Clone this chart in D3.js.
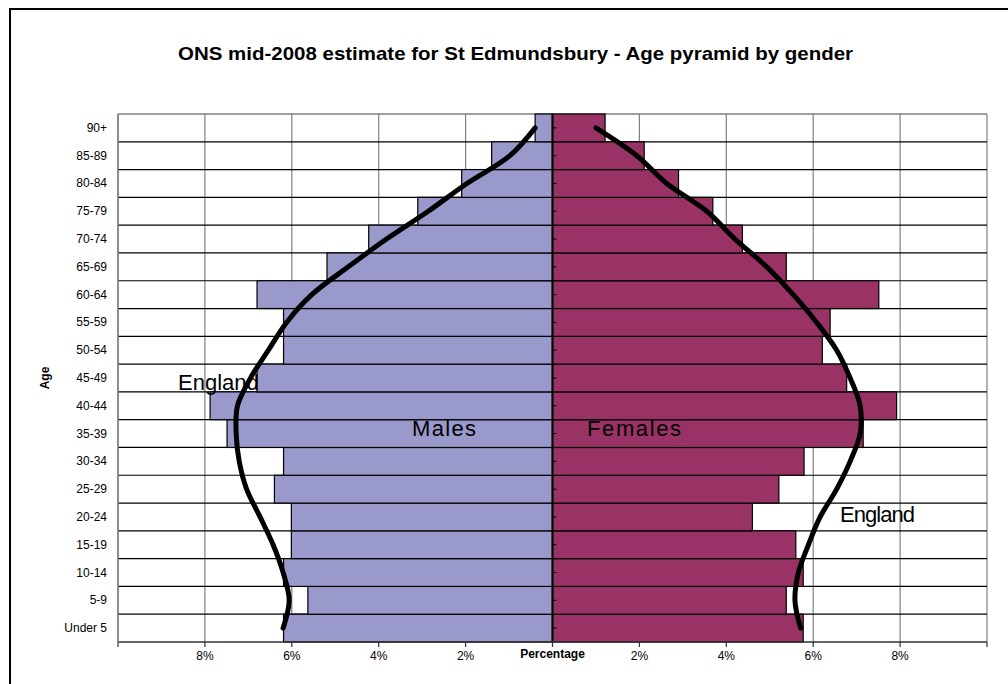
<!DOCTYPE html>
<html>
<head>
<meta charset="utf-8">
<script src="https://cdn.jsdelivr.net/npm/d3@7"></script>
<style>
html,body{margin:0;padding:0;background:#fff;}
svg{display:block;font-family:Arial,"Liberation Sans",sans-serif;}
</style>
</head>
<body>
<svg id="chart" width="1008" height="684"></svg>
<script>
const categories = ["Under 5","5-9","10-14","15-19","20-24","25-29","30-34","35-39","40-44","45-49","50-54","55-59","60-64","65-69","70-74","75-79","80-84","85-89","90+"];
const males   = [6.19,5.63,6.19,6.01,6.01,6.40,6.19,7.49,7.88,6.80,6.19,6.19,6.80,5.19,4.23,3.10,2.09,1.40,0.40];
const females = [5.77,5.38,5.77,5.60,4.60,5.21,5.79,7.15,7.92,6.77,6.21,6.39,7.51,5.38,4.37,3.69,2.90,2.11,1.21];
const englandMales   = [6.20,6.06,6.20,6.43,6.73,7.04,7.21,7.28,7.25,6.95,6.54,6.12,5.54,4.70,3.82,2.86,1.97,0.98,0.40];
const englandFemales = [5.71,5.58,5.66,5.89,6.16,6.54,6.85,7.08,7.08,6.85,6.54,6.08,5.54,4.93,4.20,3.55,2.63,1.94,1.00];
const xTicks = [-10,-8,-6,-4,-2,0,2,4,6,8,10];
const xTickLabels = ["","8%","6%","4%","2%","","2%","4%","6%","8%",""];

const svg = d3.select("#chart");
const L = 118, R = 987, T = 114, B = 642;
const x = d3.scaleLinear().domain([-10,10]).range([L,R]);
const y = d3.scaleBand().domain(categories.slice().reverse()).range([T,B]).padding(0);

// outer frame
svg.append("rect").attr("x",10).attr("y",9).attr("width",1010).attr("height",700)
  .attr("fill","none").attr("stroke","#000").attr("stroke-width",2);

// title
svg.append("text").attr("x",515.5).attr("y",60).attr("text-anchor","middle")
  .attr("font-size",18.5).attr("font-weight","bold")
  .attr("textLength",675).attr("lengthAdjust","spacingAndGlyphs")
  .text("ONS mid-2008 estimate for St Edmundsbury - Age pyramid by gender");

// vertical gridlines
svg.append("g").selectAll("line").data(xTicks.filter(d=>d!==0)).join("line")
  .attr("x1",d=>x(d)).attr("x2",d=>x(d)).attr("y1",T).attr("y2",B)
  .attr("stroke","#808080").attr("stroke-width",1.2);
// top border
svg.append("line").attr("x1",L).attr("x2",R).attr("y1",T).attr("y2",T)
  .attr("stroke","#808080").attr("stroke-width",1.5);

// horizontal row lines
const bounds = categories.map((c)=>y(c)).filter(v=>v>T+1);
svg.append("g").selectAll("line").data(bounds).join("line")
  .attr("x1",L).attr("x2",R).attr("y1",d=>d).attr("y2",d=>d)
  .attr("stroke","#000").attr("stroke-width",1.2);

// bars
svg.append("g").selectAll("rect").data(categories).join("rect")
  .attr("x",(d,i)=>x(-males[i])).attr("y",d=>y(d))
  .attr("width",(d,i)=>x(0)-x(-males[i])).attr("height",y.bandwidth())
  .attr("fill","#9999CC").attr("stroke","#000").attr("stroke-width",1.2);
svg.append("g").selectAll("rect").data(categories).join("rect")
  .attr("x",x(0)).attr("y",d=>y(d))
  .attr("width",(d,i)=>x(females[i])-x(0)).attr("height",y.bandwidth())
  .attr("fill","#993366").attr("stroke","#000").attr("stroke-width",1.2);

// centre axis with small ticks
svg.append("line").attr("x1",x(0)).attr("x2",x(0)).attr("y1",T).attr("y2",B)
  .attr("stroke","#000").attr("stroke-width",2);
svg.append("g").selectAll("line").data(categories).join("line")
  .attr("x1",x(0)).attr("x2",x(0)+4)
  .attr("y1",d=>y(d)+y.bandwidth()/2).attr("y2",d=>y(d)+y.bandwidth()/2)
  .attr("stroke","#000").attr("stroke-width",1);

// bottom axis
svg.append("line").attr("x1",L).attr("x2",R).attr("y1",B).attr("y2",B)
  .attr("stroke","#333").attr("stroke-width",1.5);
svg.append("g").selectAll("line").data(xTicks).join("line")
  .attr("x1",d=>x(d)).attr("x2",d=>x(d)).attr("y1",B).attr("y2",B+5)
  .attr("stroke","#333").attr("stroke-width",1.2);
svg.append("g").selectAll("text").data(xTicks).join("text")
  .attr("x",d=>x(d)).attr("y",660).attr("text-anchor","middle")
  .attr("font-size",12).text((d,i)=>xTickLabels[i]);
svg.append("text").attr("x",x(0)).attr("y",658).attr("text-anchor","middle")
  .attr("font-size",12).attr("font-weight","bold").text("Percentage");

// left axis line
svg.append("line").attr("x1",L).attr("x2",L).attr("y1",T).attr("y2",B)
  .attr("stroke","#808080").attr("stroke-width",1.5);

// y labels
svg.append("g").selectAll("text").data(categories).join("text")
  .attr("x",107).attr("y",d=>y(d)+y.bandwidth()/2+4).attr("text-anchor","end")
  .attr("font-size",12).text(d=>d);
svg.append("text").attr("transform","translate(49,378) rotate(-90)")
  .attr("text-anchor","middle").attr("font-size",12).attr("font-weight","bold").text("Age");

// England curves
const lineM = d3.line().x(d=>x(-d.v)).y(d=>y(d.c)+y.bandwidth()/2).curve(d3.curveCatmullRom.alpha(0.5));
const lineF = d3.line().x(d=>x(d.v)).y(d=>y(d.c)+y.bandwidth()/2).curve(d3.curveCatmullRom.alpha(0.5));
svg.append("path").datum(categories.map((c,i)=>({c,v:englandMales[i]})))
  .attr("d",lineM).attr("fill","none").attr("stroke","#000").attr("stroke-width",5)
  .attr("stroke-linecap","round").attr("stroke-linejoin","round");
svg.append("path").datum(categories.map((c,i)=>({c,v:englandFemales[i]})))
  .attr("d",lineF).attr("fill","none").attr("stroke","#000").attr("stroke-width",5)
  .attr("stroke-linecap","round").attr("stroke-linejoin","round");

// labels
svg.append("text").attr("x",178).attr("y",390).attr("font-size",22).text("England");
svg.append("text").attr("x",412).attr("y",436).attr("font-size",22)
  .attr("textLength",64).attr("lengthAdjust","spacing").text("Males");
svg.append("text").attr("x",587).attr("y",436).attr("font-size",22)
  .attr("textLength",94).attr("lengthAdjust","spacing").text("Females");
svg.append("text").attr("x",840).attr("y",522).attr("font-size",22)
  .attr("textLength",75).attr("lengthAdjust","spacing").text("England");
</script>
</body>
</html>
